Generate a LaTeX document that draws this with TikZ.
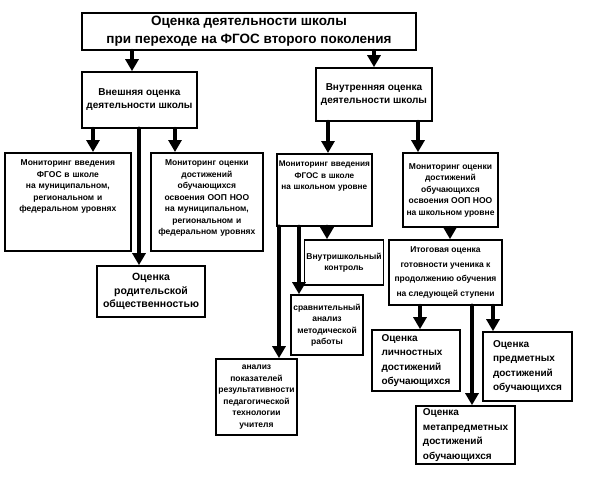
\documentclass[tikz,border=0pt]{standalone}
\usepackage{fontspec}
\setmainfont{Liberation Sans}
\usetikzlibrary{arrows.meta,positioning}
\tikzset{
  box/.style    = {draw, line width=1.7pt, align=center, inner sep=2pt, font=\bfseries},
  topbox/.style = {box, anchor=north west, text height=11pt},
  big/.style    = {font=\bfseries\fontsize{13.5}{18}\selectfont},
  head/.style   = {font=\bfseries\fontsize{10}{13}\selectfont},
  small/.style  = {font=\bfseries\fontsize{8.5}{11.5}\selectfont},
  mid/.style    = {font=\bfseries\fontsize{10.5}{13.5}\selectfont},
  res/.style    = {align=left, font=\bfseries\fontsize{10}{14.5}\selectfont},
  arr/.style    = {line width=4pt, line cap=round, -{Triangle[length=12pt,width=13pt]}},
  trunk/.style  = {arr, line width=4.5pt}
}
\begin{document}
\begin{tikzpicture}[x=1pt,y=-1pt]
  \useasboundingbox (0,0) rectangle (589,480);
  % top level
  \node[box, big, minimum width=334, minimum height=37] (school) at (249,31.5)
    {Оценка деятельности школы\\при переходе на ФГОС второго поколения};
  \node[box, head, minimum width=115, minimum height=56] (outer) at (139.5,100)
    {Внешняя оценка\\деятельности школы};
  \node[box, head, minimum width=116, minimum height=53] (inner) at (374,94.5)
    {Внутренняя оценка\\деятельности школы};
  % external branch
  \node[topbox, small, text width=122, text depth=83] (monmun) at (4,152)
    {Мониторинг введения\\ФГОС в школе\\на муниципальном,\\региональном и\\федеральном уровнях};
  \node[topbox, small, text width=108, text depth=83] (resmun) at (150,152)
    {Мониторинг оценки\\достижений\\обучающихся\\освоения ООП НОО\\на муниципальном,\\региональном и\\федеральном уровнях};
  \node[box, mid, minimum width=108, minimum height=51] (parents) at (151,291.5)
    {Оценка\\родительской\\общественностью};
  % internal branch
  \node[topbox, small, inner xsep=0.5pt, text width=94, text depth=57,
        font=\bfseries\fontsize{8.2}{11.5}\selectfont] (monsch) at (276,153)
    {Мониторинг введения\\ФГОС в школе\\на школьном уровне};
  \node[box, small, minimum width=95, minimum height=74] (ressch) at (450.5,190)
    {Мониторинг оценки\\достижений\\обучающихся\\освоения ООП НОО\\на школьном уровне};
  \node[box, small, minimum width=74, minimum height=45] (control) at (344,262.5)
    {Внутришкольный\\контроль};
  \node[box, small, minimum width=72, minimum height=60] (method) at (327,325)
    {сравнительный\\анализ\\методической\\работы};
  \node[box, small, minimum width=81, minimum height=76] (teacher) at (256.5,397)
    {анализ\\показателей\\результативности\\педагогической\\технологии\\учителя};
  \node[box, small, minimum width=113, minimum height=65, font=\bfseries\fontsize{8.5}{14.5}\selectfont] (final) at (445.5,272.5)
    {Итоговая оценка\\готовности ученика к\\продолжению обучения\\на следующей ступени};
  \node[box, res, minimum width=88, minimum height=61] (personal) at (416,360.5)
    {Оценка\\личностных\\достижений\\обучающихся};
  \node[box, res, minimum width=89, minimum height=69] (subject) at (527.5,366.5)
    {Оценка\\предметных\\достижений\\обучающихся};
  \node[box, res, minimum width=99, minimum height=58] (meta) at (465.5,435)
    {Оценка\\метапредметных\\достижений\\обучающихся};
  % connectors
  \draw[arr] (132,0 |- school.south) -- (132,0 |- outer.north);
  \draw[arr] (374,0 |- school.south) -- (374,0 |- inner.north);
  \draw[arr] (93,0 |- outer.south) -- (93,0 |- monmun.north);
  \draw[trunk] (139,0 |- outer.south) -- (139,0 |- parents.north);
  \draw[arr] (175,0 |- outer.south) -- (175,0 |- resmun.north);
  \draw[arr] (328,0 |- inner.south) -- (328,0 |- monsch.north);
  \draw[arr] (418,0 |- inner.south) -- (418,0 |- ressch.north);
  \draw[trunk] (279,0 |- monsch.south) -- (279,0 |- teacher.north);
  \draw[arr] (299,0 |- monsch.south) -- (299,0 |- method.north);
  \draw[arr] (327,0 |- monsch.south) -- (327,0 |- control.north);
  \draw[arr] (450,0 |- ressch.south) -- (450,0 |- final.north);
  \draw[arr] (420,0 |- final.south) -- (420,0 |- personal.north);
  \draw[trunk] (472,0 |- final.south) -- (472,0 |- meta.north);
  \draw[arr] (493,0 |- final.south) -- (493,0 |- subject.north);
\end{tikzpicture}
\end{document}
